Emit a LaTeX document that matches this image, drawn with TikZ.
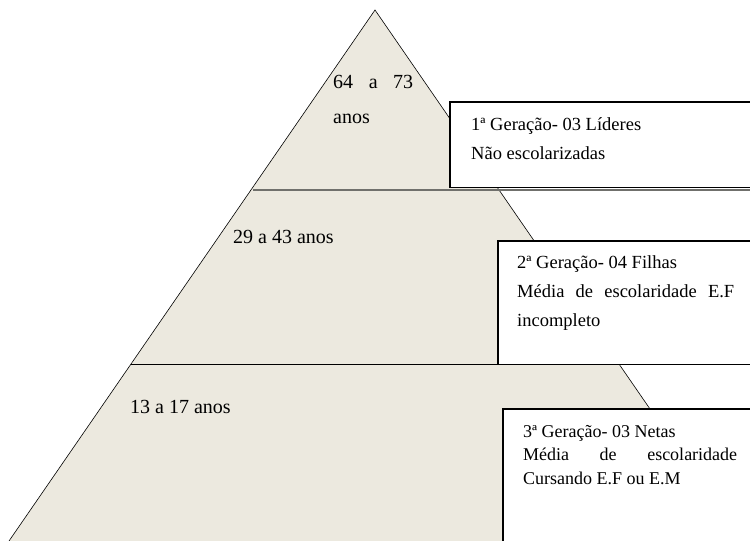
\documentclass[tikz,border=0pt]{standalone}
\usepackage{fontspec}
\setmainfont{Liberation Serif}
\usepackage{tikz}
\definecolor{pyrbeige}{RGB}{236,233,223}
\definecolor{divgray}{RGB}{112,112,108}
\tikzstyle{genbox} = [draw=black, line width=1.5pt, fill=white]
\tikzstyle{txt} = [inner sep=0pt, anchor=base west, align=left]
\newcommand{\agetxt}{\fontsize{20pt}{35pt}\selectfont}
\newcommand{\bigtxt}{\fontsize{18.5pt}{29pt}\selectfont}
\newcommand{\smalltxt}{\fontsize{18pt}{23.5pt}\selectfont}

\begin{document}
\begin{tikzpicture}[x=1pt, y=-1pt]
        \useasboundingbox (0,0) rectangle (750,541);
        \clip (0,0) rectangle (750,541);
        \coordinate (apex) at (375,10);
        \coordinate (baseL) at (9,541);
        \coordinate (baseR) at (741,541);

        % pyramid
        \fill[pyrbeige] (apex) -- (baseL) -- (baseR) -- cycle;
        \draw[line width=0.6pt] (baseL) -- (apex) -- (baseR);
        \draw[divgray, line width=2pt] (253,189.5) -- (752,189.5);
        \draw[line width=1.6pt] (131,364.5) -- (752,364.5);

        % boxes
        \draw[genbox] (450,102) rectangle (755,187.5);
        \draw[genbox] (498,241) rectangle (755,364.5);
        \draw[genbox] (503,409) rectangle (755,560);

        % ages (base = last line)
        \node[txt, font=\agetxt] (age1) at (333,123) {\strut\makebox[80pt][s]{64 a 73}\\\strut anos};
        \node[txt, font=\agetxt] (age2) at (233,243) {29 a 43 anos};
        \node[txt, font=\agetxt] (age3) at (130,413) {13 a 17 anos};

        % generations
        \node[txt, font=\bigtxt] (gen1) at (471,159) {\strut 1ª Geração- 03 Líderes\\\strut Não escolarizadas};
        \node[txt, font=\bigtxt] (gen2) at (517,326) {\strut 2ª Geração- 04 Filhas\\\strut\makebox[217pt][s]{Média de escolaridade E.F}\\\strut incompleto};
        \node[txt, font=\smalltxt] (gen3) at (523,484) {\strut 3ª Geração- 03 Netas\\\strut\makebox[214pt][s]{Média de escolaridade}\\\strut Cursando E.F ou E.M};
    \end{tikzpicture}
\end{document}
